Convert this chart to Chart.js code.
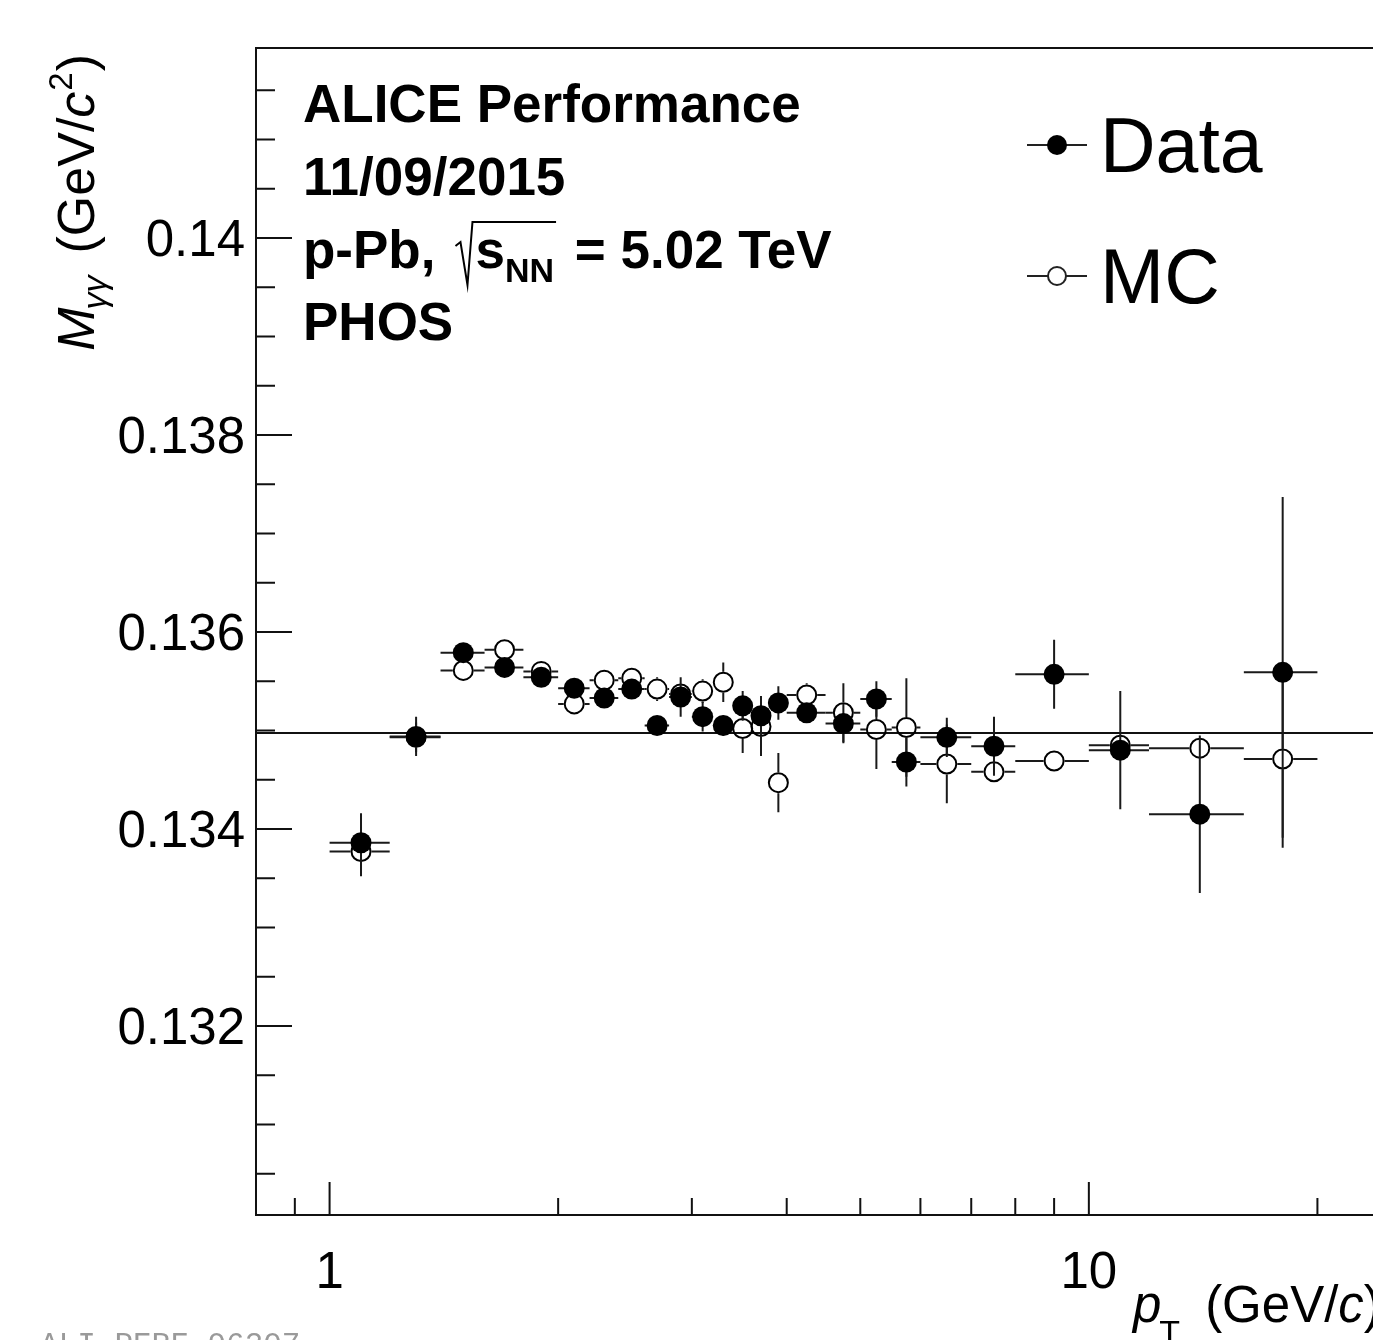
<!DOCTYPE html>
<html>
<head>
<meta charset="utf-8">
<script src="https://cdn.jsdelivr.net/npm/chart.js@4.4.1/dist/chart.umd.min.js"></script>
<style>
  html, body { margin: 0; padding: 0; background: #fff; overflow: hidden; }
  #wrap { width: 1420px; height: 1340px; }
</style>
</head>
<body>
<div id="wrap"><canvas id="massChart" width="1420" height="1340"></canvas></div>
<script>
// pT bins (GeV/c)
const ptCenter = [1.1, 1.3, 1.5, 1.7, 1.9, 2.1, 2.3, 2.5, 2.7, 2.9, 3.1, 3.3, 3.5, 3.7, 3.9, 4.25, 4.75, 5.25, 5.75, 6.5, 7.5, 9, 11, 14, 18];
const ptLow    = [1.0, 1.2, 1.4, 1.6, 1.8, 2.0, 2.2, 2.4, 2.6, 2.8, 3.0, 3.2, 3.4, 3.6, 3.8, 4.0, 4.5, 5.0, 5.5, 6.0, 7.0, 8.0, 10, 12, 16];
const ptHigh   = [1.2, 1.4, 1.6, 1.8, 2.0, 2.2, 2.4, 2.6, 2.8, 3.0, 3.2, 3.4, 3.6, 3.8, 4.0, 4.5, 5.0, 5.5, 6.0, 7.0, 8.0, 10, 12, 16, 20];

// peak position, data
const dataMass = [0.13386, 0.13494, 0.13579, 0.13564, 0.13554, 0.13543, 0.13533, 0.13542, 0.13505, 0.13534, 0.13514, 0.13505, 0.13525, 0.13515, 0.13528, 0.13518, 0.13507, 0.13532, 0.13468, 0.13493, 0.13484, 0.13557, 0.13480, 0.13415, 0.13559];
const dataErr  = [0.0003, 0.0002, 0.00006, 0.00006, 0.00006, 0.00007, 0.00006, 0.00007, 0.00006, 0.0002, 0.00015, 0.0001, 0.00015, 0.0002, 0.00017, 0.0001, 0.0002, 0.00018, 0.00025, 0.0002, 0.0003, 0.00035, 0.0006, 0.0008, 0.00178];

// peak position, MC
const mcMass = [0.13377, 0.13493, 0.13561, 0.13582, 0.13560, 0.13527, 0.13551, 0.13553, 0.13542, 0.13537, 0.13540, 0.13549, 0.13502, 0.13504, 0.13447, 0.13536, 0.13518, 0.13501, 0.13503, 0.13466, 0.13458, 0.13469, 0.13485, 0.13482, 0.13471];
const mcErr  = [0.00025, 0.00015, 0.00007, 0.00007, 0.00006, 0.00007, 0.00007, 0.00007, 0.00012, 0.0001, 0.00012, 0.0002, 0.00025, 0.0003, 0.0003, 0.00012, 0.0003, 0.0004, 0.0005, 0.0004, 0.0001, 0.0001, 0.0001, 0.0001, 0.0008];

const pdgMass = 0.134975;

// axis ticks
const yMajorTicks = [0.132, 0.134, 0.136, 0.138, 0.14];
const yTickLabels = ['0.132', '0.134', '0.136', '0.138', '0.14'];
const yMinorTicks = [0.1305, 0.131, 0.1315, 0.1325, 0.133, 0.1335, 0.1345, 0.135, 0.1355, 0.1365, 0.137, 0.1375, 0.1385, 0.139, 0.1395, 0.1405, 0.141, 0.1415];
const xMajorTicks = [1, 10];
const xTickLabels = ['1', '10'];
const xMinorTicks = [0.9, 2, 3, 4, 5, 6, 7, 8, 9, 20];

const FONT = '"Liberation Sans", Arial, Helvetica, sans-serif';
const MARKER_R = 10.5;

// error bars, drawn just before each dataset's markers
function drawErrors(chart, mass, err, hollow) {
    const ctx = chart.ctx;
    const xs = chart.scales.x, ys = chart.scales.y;
    ctx.save();
    ctx.beginPath();
    ctx.rect(chart.chartArea.left, chart.chartArea.top, chart.chartArea.right - chart.chartArea.left, chart.chartArea.bottom - chart.chartArea.top);
    ctx.clip();
    ctx.strokeStyle = '#1a1a1a';
    ctx.lineWidth = 2;
    const gap = hollow ? MARKER_R : 0;
    ptCenter.forEach((pt, i) => {
        const px = xs.getPixelForValue(pt);
        const py = ys.getPixelForValue(mass[i]);
        const xl = xs.getPixelForValue(ptLow[i]);
        const xh = xs.getPixelForValue(ptHigh[i]);
        const yt = ys.getPixelForValue(mass[i] + err[i]);
        const yb = ys.getPixelForValue(mass[i] - err[i]);
        ctx.beginPath();
        if (px - gap > xl) { ctx.moveTo(xl, py); ctx.lineTo(px - gap, py); }
        if (xh > px + gap) { ctx.moveTo(px + gap, py); ctx.lineTo(xh, py); }
        if (py - gap > yt) { ctx.moveTo(px, yt); ctx.lineTo(px, py - gap); }
        if (yb > py + gap) { ctx.moveTo(px, py + gap); ctx.lineTo(px, yb); }
        ctx.stroke();
    });
    ctx.restore();
}

// draw a run of text pieces with different fonts / baseline shifts
function drawRuns(ctx, runs, x, y) {
    let cx = x;
    runs.forEach(r => {
        ctx.font = r.font;
        ctx.fillText(r.t, cx, y + (r.dy || 0));
        cx += ctx.measureText(r.t).width + (r.after || 0);
    });
    return cx;
}
function runsWidth(ctx, runs) {
    let w = 0;
    runs.forEach(r => { ctx.font = r.font; w += ctx.measureText(r.t).width + (r.after || 0); });
    return w;
}

const rootStyle = {
    id: 'rootStyle',
    beforeDatasetsDraw(chart) {
        const ctx = chart.ctx, a = chart.chartArea;
        const y0 = chart.scales.y.getPixelForValue(pdgMass);
        ctx.save();
        ctx.strokeStyle = '#111';
        ctx.lineWidth = 2;
        ctx.beginPath();
        ctx.moveTo(a.left, y0);
        ctx.lineTo(a.right, y0);
        ctx.stroke();
        ctx.restore();
    },
    beforeDatasetDraw(chart, args) {
        if (args.index === 0) drawErrors(chart, dataMass, dataErr, false);
        else drawErrors(chart, mcMass, mcErr, true);
    },
    afterDraw(chart) {
        const ctx = chart.ctx, a = chart.chartArea;
        const xs = chart.scales.x, ys = chart.scales.y;
        ctx.save();

        // frame
        ctx.strokeStyle = '#111';
        ctx.lineWidth = 2;
        ctx.beginPath();
        ctx.moveTo(a.right, a.top);
        ctx.lineTo(a.left, a.top);
        ctx.lineTo(a.left, a.bottom);
        ctx.lineTo(a.right, a.bottom);
        ctx.stroke();

        // y ticks (inside)
        ctx.beginPath();
        yMajorTicks.forEach(v => { const y = ys.getPixelForValue(v); ctx.moveTo(a.left, y); ctx.lineTo(a.left + 36, y); });
        yMinorTicks.forEach(v => { const y = ys.getPixelForValue(v); ctx.moveTo(a.left, y); ctx.lineTo(a.left + 19, y); });
        // x ticks (inside)
        xMajorTicks.forEach(v => { const x = xs.getPixelForValue(v); ctx.moveTo(x, a.bottom); ctx.lineTo(x, a.bottom - 33); });
        xMinorTicks.forEach(v => { const x = xs.getPixelForValue(v); ctx.moveTo(x, a.bottom); ctx.lineTo(x, a.bottom - 17); });
        ctx.stroke();

        // tick labels
        ctx.fillStyle = '#000';
        ctx.font = '51px ' + FONT;
        ctx.textAlign = 'right';
        ctx.textBaseline = 'alphabetic';
        yMajorTicks.forEach((v, i) => ctx.fillText(yTickLabels[i], a.left - 11, ys.getPixelForValue(v) + 18));
        ctx.textAlign = 'center';
        xMajorTicks.forEach((v, i) => ctx.fillText(xTickLabels[i], xs.getPixelForValue(v), 1288));

        // x title
        ctx.textAlign = 'left';
        drawRuns(ctx, [
            { t: 'p', font: 'italic 51px ' + FONT, after: -2 },
            { t: 'T', font: '34px ' + FONT, dy: 22, after: 25 },
            { t: '(GeV/', font: '51px ' + FONT },
            { t: 'c', font: 'italic 51px ' + FONT },
            { t: ')', font: '51px ' + FONT }
        ], 1133, 1322);

        // y title, rotated
        const yRuns = [
            { t: 'M', font: 'italic 52px ' + FONT, after: -2 },
            { t: 'γγ', font: 'italic 34px ' + FONT, dy: 12, after: 22 },
            { t: '(GeV/', font: '52px ' + FONT },
            { t: 'c', font: 'italic 52px ' + FONT, after: 1 },
            { t: '2', font: '33px ' + FONT, dy: -22, after: 1 },
            { t: ')', font: '52px ' + FONT }
        ];
        const yw = runsWidth(ctx, yRuns);
        ctx.save();
        ctx.translate(94, 0);
        ctx.rotate(-Math.PI / 2);
        drawRuns(ctx, yRuns, -54 - yw, 0);
        ctx.restore();

        // ALICE label block
        const bold = 'bold 53px ' + FONT;
        ctx.font = bold;
        ctx.fillText('ALICE Performance', 303, 122);
        ctx.fillText('11/09/2015', 303, 195);
        ctx.fillText('PHOS', 303, 340);
        let cx = 303;
        ctx.fillText('p-Pb,', cx, 268);
        cx += ctx.measureText('p-Pb,').width + 24;
        const rx = cx;
        ctx.fillText('s', cx + 16, 268);
        cx += 16 + ctx.measureText('s').width;
        ctx.font = 'bold 34px ' + FONT;
        ctx.fillText('NN', cx, 282);
        cx += ctx.measureText('NN').width;
        ctx.lineWidth = 2;
        ctx.strokeStyle = '#000';
        ctx.beginPath();
        ctx.moveTo(rx - 4, 246);
        ctx.lineTo(rx + 1, 242);
        ctx.lineTo(rx + 8, 285);
        ctx.lineTo(rx + 13, 222);
        ctx.lineTo(cx + 2, 222);
        ctx.stroke();
        ctx.font = bold;
        ctx.fillText(' = 5.02 TeV', cx + 6, 268);

        // legend
        ctx.lineWidth = 2;
        ctx.strokeStyle = '#222';
        [[145, true], [276, false]].forEach(([ly, filled]) => {
            ctx.beginPath();
            ctx.moveTo(1027, ly); ctx.lineTo(filled ? 1087 : 1048, ly);
            if (!filled) { ctx.moveTo(1066, ly); ctx.lineTo(1087, ly); }
            ctx.stroke();
            ctx.beginPath();
            ctx.arc(1057, ly, filled ? 10 : 9, 0, Math.PI * 2);
            if (filled) { ctx.fillStyle = '#000'; ctx.fill(); } else { ctx.stroke(); }
        });
        ctx.fillStyle = '#000';
        ctx.font = '77px ' + FONT;
        ctx.fillText('Data', 1100, 172);
        ctx.fillText('MC', 1100, 303);

        // record id at the bottom
        ctx.fillStyle = '#9a9a9a';
        ctx.font = '31px "Liberation Mono", monospace';
        ctx.fillText('ALI-PERF-96307', 40, 1354);

        ctx.restore();
    }
};

const ctx = document.getElementById('massChart').getContext('2d');
const massChart = new Chart(ctx, {
    type: 'scatter',
    data: {
        datasets: [
            {
                label: 'Data',
                data: ptCenter.map((pt, i) => ({ x: pt, y: dataMass[i] })),
                pointRadius: MARKER_R,
                pointBackgroundColor: '#000',
                pointBorderColor: '#000',
                pointBorderWidth: 0,
                showLine: false
            },
            {
                label: 'MC',
                data: ptCenter.map((pt, i) => ({ x: pt, y: mcMass[i] })),
                pointRadius: MARKER_R - 1,
                pointBackgroundColor: 'rgba(0,0,0,0)',
                pointBorderColor: '#000',
                pointBorderWidth: 2,
                showLine: false
            }
        ]
    },
    options: {
        responsive: false,
        animation: false,
        events: [],
        layout: { padding: { left: 256, top: 48, right: 29, bottom: 125 } },
        scales: {
            x: { type: 'logarithmic', min: 0.8, max: 25, display: false },
            y: { type: 'linear', min: 0.13008, max: 0.14193, display: false }
        },
        plugins: {
            legend: { display: false },
            tooltip: { enabled: false }
        }
    },
    plugins: [rootStyle]
});
</script>
</body>
</html>
